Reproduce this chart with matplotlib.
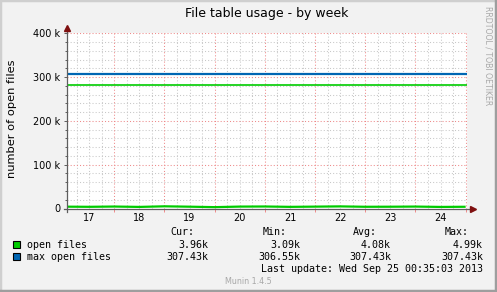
import matplotlib
matplotlib.use("Agg")
import matplotlib.pyplot as plt
import numpy as np
from matplotlib.patches import Rectangle

# ---------------- data ----------------
title = "File table usage - by week"
ylabel = "number of open files"
day_labels = ["17", "18", "19", "20", "21", "22", "23", "24"]
day_label_pos = [17.5, 18.5, 19.5, 20.5, 21.5, 22.5, 23.5, 24.5]
midnights = [18, 19, 20, 21, 22, 23, 24, 25]
x_range = [17.052, 25.021]          # Sep 17 ~01:15 .. Sep 25 ~00:30 (days of month)

# open files (thousands), sampled every 12 h
open_times = [17.0, 17.5, 18.0, 18.5, 19.0, 19.5, 20.0, 20.5, 21.0,
              21.5, 22.0, 22.5, 23.0, 23.5, 24.0, 24.5, 25.0]
open_files = [4.21, 3.85, 4.47, 3.62, 4.99, 4.12, 3.09, 4.35, 4.58,
              3.74, 4.26, 4.81, 3.93, 4.05, 4.40, 3.57, 3.96]

# max open files (thousands): flat with short dips
max_times = [17.0, 17.26, 17.29, 17.69, 17.72, 18.04, 18.07, 18.36, 18.39,
             18.76, 18.79, 25.1]
max_open = [307.43, 306.55, 307.43, 306.55, 307.43, 306.55, 307.43, 306.55,
            307.43, 306.55, 307.43, 307.43]

# warning rule for open files (92 % of max)
open_files_warning = 282.84

y_major = [0, 100, 200, 300, 400]
y_major_labels = ["0", "100 k", "200 k", "300 k", "400 k"]
y_minor_step = 20

legend_names = ["open files", "max open files"]
legend_colors = ["#00CC00", "#0066B3"]
legend_stats = [["3.96k", "3.09k", "4.08k", "4.99k"],
                ["307.43k", "306.55k", "307.43k", "307.43k"]]
stat_headers = ["Cur:", "Min:", "Avg:", "Max:"]
last_update = "Last update: Wed Sep 25 00:35:03 2013"
footer = "Munin 1.4.5"
watermark = "RRDTOOL / TOBI OETIKER"

# ---------------- layout ----------------
W, H = 497, 292
fig = plt.figure(figsize=(W / 100, H / 100), dpi=100)
fig.patch.set_facecolor("#F2F2F2")

def fx(x):
    return x / W

def fy(y):
    return 1 - y / H

L, R, T, B = 66.7, 466.7, 33.3, 208.5
ax = fig.add_axes([fx(L), fy(B), (R - L) / W, (B - T) / H])
ax.set_facecolor("white")
ax.set_xlim(*x_range)
ax.set_ylim(0, 400)

# frame shading
fig.add_artist(Rectangle((0, 0), 1, 1, transform=fig.transFigure, fill=False,
                         edgecolor="#CFCFCF", lw=2.5))
fig.add_artist(plt.Line2D([0, 1], [0.002, 0.002], transform=fig.transFigure,
                          color="#9E9E9E", lw=2.5))
fig.add_artist(plt.Line2D([0.998, 0.998], [0, 1], transform=fig.transFigure,
                          color="#9E9E9E", lw=2.5))

# grid
grid_minor = "#C8C8C8"
grid_major = "#EE8A8A"
for v in np.arange(0, 401, y_minor_step):
    if v in y_major:
        continue
    ax.axhline(v, color=grid_minor, lw=0.75, ls=(0, (1, 2)), zorder=1)
for v in y_major[1:]:
    ax.axhline(v, color=grid_major, lw=0.75, ls=(0, (1, 2)), zorder=1.5)
for d in np.arange(17.25, 25.01, 0.25):
    if abs(d - round(d)) < 1e-6:
        continue
    ax.axvline(d, color=grid_minor, lw=0.75, ls=(0, (1, 2)), zorder=1)
for d in midnights:
    ax.axvline(d, color=grid_major, lw=0.75, ls=(0, (1, 2)), zorder=1.5)

# data
ax.plot(open_times, open_files, color=legend_colors[0], lw=1.6, zorder=3,
        solid_capstyle="butt")
ax.plot(max_times, max_open, color=legend_colors[1], lw=1.6, zorder=3,
        drawstyle="steps-post", solid_capstyle="butt")
ax.axhline(open_files_warning, color=legend_colors[0], lw=1.2, zorder=3)

# axes lines + arrows
for s in ax.spines.values():
    s.set_visible(False)
axc = "#5E5E5E"
ax.plot([-3 / 400, 1 + 4 / 400], [0, 0], transform=ax.transAxes, color=axc,
        lw=0.9, clip_on=False, zorder=4)
ax.plot([0, 0], [-3 / 175.2, 1 + 2 / 175.2], transform=ax.transAxes, color=axc,
        lw=0.9, clip_on=False, zorder=4)
ax.plot([1 + 6 / 400], [0], marker=">", ms=4, color="#7F1010",
        transform=ax.transAxes, clip_on=False, zorder=5)
ax.plot([0], [1 + 5 / 175.2], marker="^", ms=4, color="#7F1010",
        transform=ax.transAxes, clip_on=False, zorder=5)

# ticks
ax.set_yticks(y_major, y_major_labels)
ax.set_yticks(np.arange(0, 401, y_minor_step), minor=True)
ax.tick_params(axis="y", which="major", length=2.5, width=0.7, color=axc,
               pad=2.0, labelsize=7, labelcolor="black")
ax.tick_params(axis="y", which="minor", length=1.5, width=0.7, color=axc)
ax.set_xticks(midnights, [""] * len(midnights))
ax.set_xticks(day_label_pos, day_labels, minor=True)
ax.tick_params(axis="x", which="major", length=2.5, width=0.7, color=grid_major)
ax.tick_params(axis="x", which="minor", length=0, pad=3.5, labelsize=7,
               labelcolor="black")

# texts
fig.text(fx((L + R) / 2), fy(13.5), title, ha="center", va="center",
         fontsize=9, family="DejaVu Sans")
fig.text(fx(12), fy(119), ylabel, rotation=90, ha="center", va="center",
         fontsize=8.2, family="DejaVu Sans")
fig.text(fx(488), fy(56), watermark, rotation=270, ha="center", va="center",
         fontsize=5.6, color="#A8A8A8", family="DejaVu Sans")
fig.text(fx(248.5), fy(281), footer, ha="center", va="center",
         fontsize=5.8, color="#A8A8A8", family="DejaVu Sans")

mono = dict(family="DejaVu Sans Mono", fontsize=7.2, va="center")
hdr_x = [194.3, 287, 377, 469]
val_x = [208.3, 300, 391, 483]
for hx, h in zip(hdr_x, stat_headers):
    fig.text(fx(hx), fy(232.3), h, ha="right", **mono)
rows_y = [244.7, 256.7]
for ry, name, col, stats in zip(rows_y, legend_names, legend_colors, legend_stats):
    fig.add_artist(Rectangle((fx(13.3), fy(ry + 3.5)), 7 / W, 7 / H,
                             transform=fig.transFigure, facecolor=col,
                             edgecolor="black", lw=0.8))
    fig.text(fx(26.7), fy(ry), name, ha="left", **mono)
    for vx, s in zip(val_x, stats):
        fig.text(fx(vx), fy(ry), s, ha="right", **mono)
fig.text(fx(483), fy(268.7), last_update, ha="right", **mono)

fig.savefig("out.png", dpi=100, facecolor=fig.get_facecolor())
